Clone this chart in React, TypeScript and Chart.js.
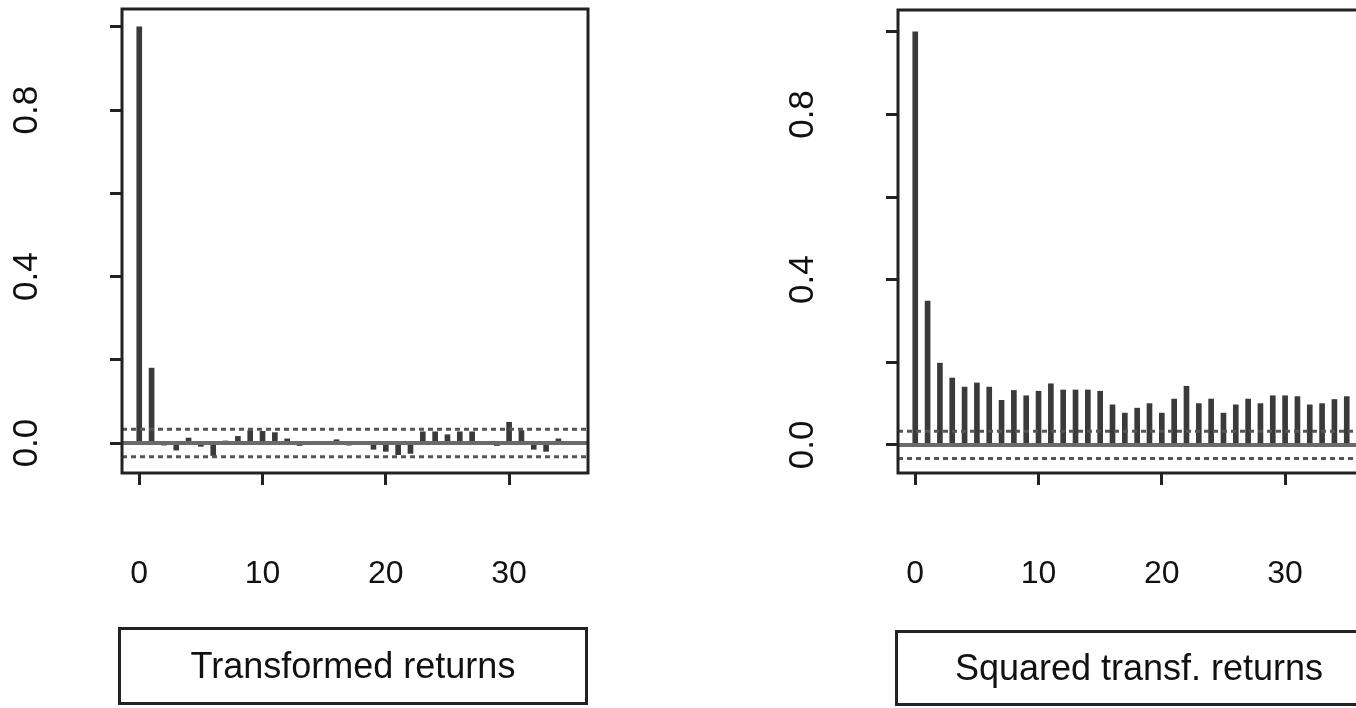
import React, { useEffect, useRef } from 'react';
import { Chart, registerables } from 'chart.js';

Chart.register(...registerables);

// ---- data ----
const lags = [0, 1, 2, 3, 4, 5, 6, 7, 8, 9, 10, 11, 12, 13, 14, 15, 16, 17, 18, 19, 20, 21, 22, 23, 24, 25, 26, 27, 28, 29, 30, 31, 32, 33, 34, 35];

const transformedAcf = [1.0, 0.18, -0.005, -0.017, 0.012, -0.008, -0.03, 0.005, 0.016, 0.03, 0.028, 0.025, 0.01, -0.006, -0.004, 0.003, 0.008, -0.005, 0.004, -0.015, -0.02, -0.028, -0.025, 0.027, 0.027, 0.02, 0.027, 0.027, 0.004, -0.006, 0.05, 0.03, -0.015, -0.02, 0.01, 0.004];

const squaredAcf = [1.0, 0.348, 0.198, 0.162, 0.14, 0.15, 0.14, 0.108, 0.132, 0.119, 0.13, 0.148, 0.133, 0.133, 0.133, 0.13, 0.097, 0.077, 0.089, 0.1, 0.077, 0.111, 0.142, 0.1, 0.111, 0.077, 0.097, 0.111, 0.1, 0.119, 0.119, 0.117, 0.097, 0.1, 0.11, 0.117];

const confBound = 0.033;

const xTickValues = [0, 10, 20, 30];
const xTickLabels = ['0', '10', '20', '30'];
const yTickValues = [0, 0.2, 0.4, 0.6, 0.8, 1.0];
const yTickLabels = ['0.0', '', '0.4', '', '0.8', ''];

const titles = ['Transformed returns', 'Squared transf. returns'];

// ---- layout / style ----
const X_MIN = -1.4;
const X_MAX = 36.4;
const CANVAS_W = 680;
const CANVAS_H = 708;
const FONT = '"Liberation Sans", Arial, Helvetica, sans-serif';
const INK = '#111111';

const boxPlugin = {
  id: 'rbox',
  afterDraw(chart: any) {
    const { ctx, chartArea } = chart;
    ctx.save();
    ctx.strokeStyle = '#222222';
    ctx.lineWidth = 3;
    ctx.strokeRect(chartArea.left, chartArea.top, chartArea.right - chartArea.left, chartArea.bottom - chartArea.top);
    ctx.restore();
  },
};

function makeConfig(values: number[], yMin: number, yMax: number, padTop: number): any {
  const hline = (y: number, dash: number[], color: string, width: number) => ({
    type: 'line',
    data: [
      { x: X_MIN, y },
      { x: X_MAX, y },
    ],
    borderColor: color,
    borderWidth: width,
    borderDash: dash,
    pointRadius: 0,
    order: 0,
  });
  return {
    type: 'bar',
    data: {
      datasets: [
        {
          type: 'bar',
          data: lags.map((l, i) => ({ x: l, y: values[i] })),
          backgroundColor: '#3a3a3a',
          barThickness: 5,
          order: 2,
        },
        hline(0, [], '#6a6a6a', 4),
        hline(confBound, [5, 4], '#555555', 3),
        hline(-confBound, [5, 4], '#555555', 3),
      ],
    },
    options: {
      animation: false,
      responsive: false,
      events: [],
      layout: { padding: { top: padTop, right: CANVAS_W - 588, left: 0, bottom: 0 } },
      plugins: { legend: { display: false }, tooltip: { enabled: false } },
      scales: {
        x: {
          type: 'linear',
          offset: false,
          min: X_MIN,
          max: X_MAX,
          afterBuildTicks: (s: any) => {
            s.ticks = xTickValues.map((v) => ({ value: v }));
          },
          afterFit: (s: any) => {
            s.height = CANVAS_H - 473;
            s.paddingLeft = 0;
            s.paddingRight = 0;
          },
          grid: { offset: false, drawOnChartArea: false, drawTicks: true, tickLength: 12, color: '#222222', lineWidth: 3 },
          border: { display: false },
          ticks: {
            autoSkip: false,
            maxRotation: 0,
            minRotation: 0,
            padding: 70,
            color: INK,
            font: { family: FONT, size: 32 },
            callback: (_v: any, i: number) => xTickLabels[i],
          },
        },
        y: {
          type: 'linear',
          min: yMin,
          max: yMax,
          afterBuildTicks: (s: any) => {
            s.ticks = yTickValues.map((v) => ({ value: v }));
          },
          afterFit: (s: any) => {
            s.width = 122;
            s.paddingTop = 0;
            s.paddingBottom = 0;
          },
          grid: { drawOnChartArea: false, drawTicks: true, tickLength: 12, color: '#222222', lineWidth: 3 },
          border: { display: false },
          ticks: {
            autoSkip: false,
            minRotation: 90,
            maxRotation: 90,
            crossAlign: 'center',
            padding: 58,
            color: INK,
            font: { family: FONT, size: 35 },
            callback: (_v: any, i: number) => yTickLabels[i],
          },
        },
      },
    },
    plugins: [boxPlugin],
  };
}

function AcfPanel(props: { left: number; values: number[]; yMin: number; yMax: number; padTop: number }) {
  const ref = useRef<HTMLCanvasElement | null>(null);
  useEffect(() => {
    if (!ref.current) return;
    const chart = new Chart(ref.current, makeConfig(props.values, props.yMin, props.yMax, props.padTop));
    return () => chart.destroy();
  }, []);
  return (
    <canvas
      ref={ref}
      width={CANVAS_W}
      height={CANVAS_H}
      style={{ position: 'absolute', left: props.left, top: 0, width: CANVAS_W, height: CANVAS_H }}
    />
  );
}

function TitleBox(props: { left: number; top: number; width: number; height: number; text: string }) {
  return (
    <div
      style={{
        position: 'absolute',
        left: props.left,
        top: props.top,
        width: props.width,
        height: props.height,
        boxSizing: 'border-box',
        border: '3px solid #222222',
        display: 'flex',
        alignItems: 'center',
        justifyContent: 'center',
        fontFamily: FONT,
        fontSize: 36,
        color: INK,
        whiteSpace: 'nowrap',
      }}
    >
      {props.text}
    </div>
  );
}

export default function App() {
  return (
    <div
      style={{
        position: 'absolute',
        left: 0,
        top: 0,
        width: 1356,
        height: 708,
        overflow: 'hidden',
        background: '#ffffff',
      }}
    >
      <AcfPanel left={0} values={transformedAcf} yMin={-0.072} yMax={1.043} padTop={9} />
      <AcfPanel left={776} values={squaredAcf} yMin={-0.068} yMax={1.053} padTop={10} />
      <TitleBox left={118} top={627} width={470} height={78} text={titles[0]} />
      <TitleBox left={895} top={630} width={488} height={76} text={titles[1]} />
    </div>
  );
}
